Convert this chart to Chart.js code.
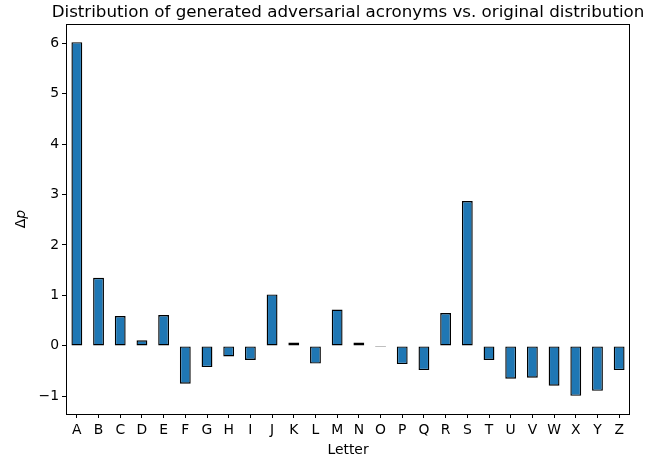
<!DOCTYPE html>
<html>
<head>
<meta charset="utf-8">
<script src="https://cdn.jsdelivr.net/npm/chart.js@4"></script>
<style>
  html, body { margin: 0; padding: 0; background: #fff; }
  #wrap { width: 659px; height: 460px; }
</style>
</head>
<body>
<div id="wrap"><canvas id="chart" width="659" height="460"></canvas></div>
<script>
// ─── Data ────────────────────────────────────────────────
const letters = ['A','B','C','D','E','F','G','H','I','J','K','L','M','N','O','P','Q','R','S','T','U','V','W','X','Y','Z'];
const deltaP  = [6.02, 1.35, 0.59, 0.11, 0.61, -0.75, -0.42, -0.21, -0.28, 1.02, 0.065, -0.35, 0.72,
                 0.065, -0.02, -0.36, -0.48, 0.65, 2.87, -0.28, -0.65, -0.63, -0.79, -0.99, -0.89, -0.48];
const yTicks  = [-1, 0, 1, 2, 3, 4, 5, 6];
const yMin = -1.35, yMax = 6.38;

const titleText = 'Distribution of generated adversarial acronyms vs. original distribution';
const FONT = "'DejaVu Sans', sans-serif";

// ─── Frame, title and y label ────────────────────────────
const decor = {
  id: 'decor',
  afterDraw(chart) {
    const { ctx, chartArea: a } = chart;
    ctx.save();
    ctx.strokeStyle = '#000';
    ctx.lineWidth = 1;
    ctx.strokeRect(Math.round(a.left) + 0.5, Math.round(a.top) + 0.5,
                   Math.round(a.right - a.left) - 1, Math.round(a.bottom - a.top));

    ctx.fillStyle = '#000';
    ctx.font = `16.7px ${FONT}`;
    ctx.textAlign = 'center';
    ctx.textBaseline = 'alphabetic';
    ctx.fillText(titleText, (a.left + a.right) / 2, 17);

    // Δp, rotated, with italic p
    ctx.translate(25, (a.top + a.bottom) / 2);
    ctx.rotate(-Math.PI / 2);
    ctx.font = `13.9px ${FONT}`;
    const w1 = ctx.measureText('Δ').width;
    ctx.font = `italic 13.9px ${FONT}`;
    const w2 = ctx.measureText('p').width;
    ctx.textAlign = 'left';
    ctx.font = `13.9px ${FONT}`;
    ctx.fillText('Δ', -(w1 + w2) / 2, 0);
    ctx.font = `italic 13.9px ${FONT}`;
    ctx.fillText('p', -(w1 + w2) / 2 + w1, 0);
    ctx.restore();
  }
};

new Chart(document.getElementById('chart'), {
  type: 'bar',
  data: {
    labels: letters,
    datasets: [{
      data: deltaP,
      backgroundColor: '#1f77b4',
      borderColor: '#000',
      borderWidth: 1.4,
      borderSkipped: false,
      barPercentage: 0.5,
      categoryPercentage: 1.0
    }]
  },
  options: {
    responsive: false,
    animation: false,
    layout: { padding: { top: 24, right: 29, left: 0, bottom: 0 } },
    plugins: { legend: { display: false }, tooltip: { enabled: false }, title: { display: false } },
    scales: {
      x: {
        offset: true,
        grid: { display: true, offset: false, drawOnChartArea: false, drawTicks: true, tickLength: 4, tickColor: '#000' },
        border: { display: false },
        ticks: { color: '#000', font: { family: FONT, size: 13.9 }, padding: 4, maxRotation: 0 },
        title: { display: true, text: 'Letter', color: '#000', font: { family: FONT, size: 13.9 }, padding: { top: 0, bottom: 1 } },
        afterFit(s) { s.height = 46; }
      },
      y: {
        min: yMin, max: yMax,
        grid: { display: true, drawOnChartArea: false, drawTicks: true, tickLength: 4, tickColor: '#000' },
        border: { display: false },
        ticks: {
          color: '#000', font: { family: FONT, size: 13.9 }, padding: 3,
          callback: v => (v < 0 ? '\u2212' + Math.abs(v) : String(v))
        },
        afterBuildTicks(s) { s.ticks = yTicks.map(v => ({ value: v })); },
        afterFit(s) { s.width = 66; }
      }
    }
  },
  plugins: [decor]
});
</script>
</body>
</html>
